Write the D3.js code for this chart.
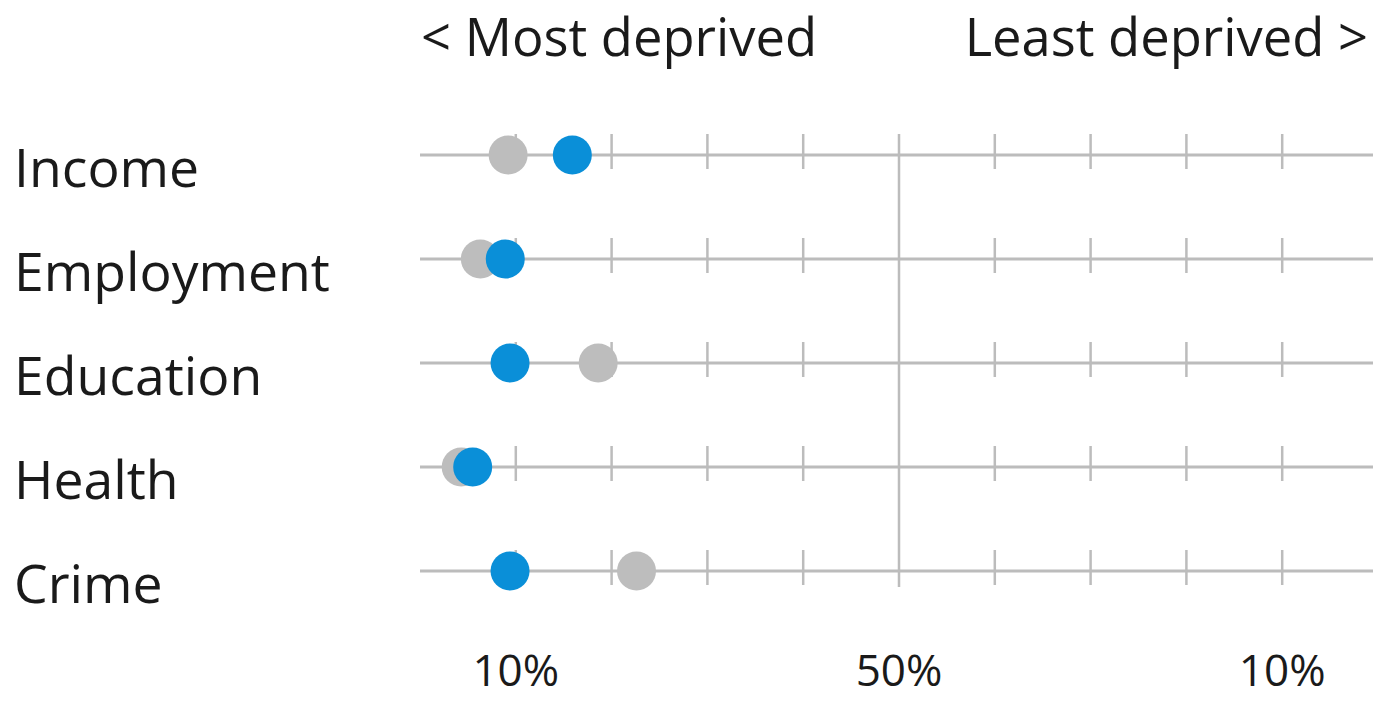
<!DOCTYPE html>
<html>
<head>
<meta charset="utf-8">
<script src="https://cdn.jsdelivr.net/npm/d3@7"></script>
<style>
  html, body { margin: 0; padding: 0; background: #fff; }
  svg { display: block; font-family: "Open Sans", "Noto Sans", sans-serif; }
</style>
</head>
<body>
<svg id="chart" width="1375" height="701"></svg>
<script>
// Data (percentile of deprivation rank, 0 = most deprived, 100 = least deprived)
const categories = ["Income", "Employment", "Education", "Health", "Crime"];
const greyValues = [9.2, 6.3, 18.6, 4.3, 22.6];
const blueValues = [15.9, 8.9, 9.4, 5.5, 9.4];
const tickValues = [10, 20, 30, 40, 50, 60, 70, 80, 90];
const labelTicks = [10, 50, 90];
const labelText = ["10%", "50%", "10%"];
const headerLeft = "< Most deprived";
const headerRight = "Least deprived >";

const svg = d3.select("#chart");
const x = d3.scaleLinear().domain([0, 100]).range([420, 1378]);
const y = d3.scalePoint().domain(categories).range([155, 571]);
const lineColor = "#bcbcbc";

// row lines
svg.append("g").selectAll("line").data(categories).join("line")
  .attr("x1", x(0)).attr("x2", 1373)
  .attr("y1", d => y(d)).attr("y2", d => y(d))
  .attr("stroke", lineColor).attr("stroke-width", 3);

// ticks per row
categories.forEach(c => {
  svg.append("g").selectAll("line").data(tickValues.filter(t => t !== 50)).join("line")
    .attr("x1", d => x(d)).attr("x2", d => x(d))
    .attr("y1", y(c) - 21).attr("y2", y(c) + 14)
    .attr("stroke", lineColor).attr("stroke-width", 2.5);
});

// centre line
svg.append("line")
  .attr("x1", x(50)).attr("x2", x(50))
  .attr("y1", y(categories[0]) - 21).attr("y2", y(categories[categories.length - 1]) + 16)
  .attr("stroke", lineColor).attr("stroke-width", 2.5);

// dots
svg.append("g").selectAll("circle").data(categories).join("circle")
  .attr("cx", (d, i) => x(greyValues[i])).attr("cy", d => y(d)).attr("r", 19.5)
  .attr("fill", "#bdbdbd");
svg.append("g").selectAll("circle").data(categories).join("circle")
  .attr("cx", (d, i) => x(blueValues[i])).attr("cy", d => y(d)).attr("r", 19.5)
  .attr("fill", "#0a8fd8");

// category labels
svg.append("g").selectAll("text").data(categories).join("text")
  .attr("x", 14).attr("y", d => y(d) + 32)
  .attr("font-size", 53.5).attr("fill", "#1a1a1a")
  .text(d => d);

// headers
svg.append("text").attr("x", 421).attr("y", 56)
  .attr("font-size", 52.5).attr("fill", "#1a1a1a").text(headerLeft);
svg.append("text").attr("x", 1368).attr("y", 56).attr("text-anchor", "end")
  .attr("font-size", 52.5).attr("fill", "#1a1a1a").text(headerRight);

// axis labels
svg.append("g").selectAll("text").data(labelTicks).join("text")
  .attr("x", d => x(d)).attr("y", 686).attr("text-anchor", "middle")
  .attr("font-size", 44).attr("fill", "#1a1a1a")
  .text((d, i) => labelText[i]);
</script>
</body>
</html>
